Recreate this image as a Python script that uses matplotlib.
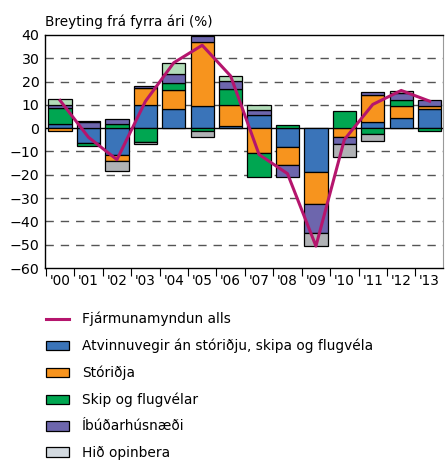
import matplotlib
matplotlib.use("Agg")
import matplotlib.pyplot as plt
from matplotlib.patches import Patch
from matplotlib.lines import Line2D

plt.rcParams['font.family'] = ['DejaVu Sans']

years = ["'00", "'01", "'02", "'03", "'04", "'05", "'06",
         "'07", "'08", "'09", "'10", "'11", "'12", "'13"]

# components (% change from previous year)
atvinnuvegir = [2.0, -6.5, -11.3, 9.8, 8.1, 9.4, 0.9, 5.5, -8.2, -19.0, 0.0, 2.6, 4.2, 8.1]
storidja = [-1.0, 0.0, -2.6, 7.3, 8.2, 27.5, 9.1, -10.5, -7.5, -13.7, -3.7, 11.5, 5.2, 1.3]
skip = [6.5, -1.0, 1.9, -6.0, 3.3, -1.0, 6.8, -10.6, 1.2, 0.0, 7.3, -2.7, 2.9, -1.3]
ibud = [1.6, 2.5, 2.2, 1.0, 3.5, 2.6, 3.5, 2.2, -5.1, -12.4, -3.0, 1.4, 2.9, 2.9]
opinbera = [2.6, 0.7, -4.3, -0.7, 4.9, -2.9, 2.0, 2.2, 0.0, -5.4, -5.6, -2.9, 0.7, 0.0]
# total
alls = [11.9, -3.9, -13.5, 11.5, 28.1, 35.6, 22.4, -11.3, -19.5, -50.6, -4.9, 10.2, 16.2, 11.6]

c_blue = '#3a74b9'
c_orange = '#f7941e'
c_green = '#00a651'
c_purple = '#6d66ad'
c_opin_pos = '#b2dcb8'
c_opin_neg = '#b0b2b5'
c_opin_leg = '#d3dae0'
c_line = '#b5156d'

fig = plt.figure(figsize=(4.46, 4.61), dpi=100)
ax = fig.add_axes([45/446, 1-268/461, (443-45)/446, (268-35)/461])

x = list(range(len(years)))
pos = [0.0]*len(years)
neg = [0.0]*len(years)
series = [(atvinnuvegir, c_blue), (storidja, c_orange), (skip, c_green),
          (ibud, c_purple), (opinbera, None)]
for vals, col in series:
    for i, v in enumerate(vals):
        if v == 0:
            continue
        if col is None:
            fc = c_opin_pos if v > 0 else c_opin_neg
        else:
            fc = col
        if v > 0:
            ax.bar(x[i], v, bottom=pos[i], width=0.82, color=fc,
                   edgecolor='black', linewidth=0.9, zorder=3)
            pos[i] += v
        else:
            ax.bar(x[i], v, bottom=neg[i], width=0.82, color=fc,
                   edgecolor='black', linewidth=0.9, zorder=3)
            neg[i] += v

ax.plot(x, alls, color=c_line, linewidth=2.2, zorder=4)

ax.set_xlim(-0.53, 13.47)
ax.set_ylim(-60, 40)
ax.set_yticks(range(-60, 41, 10))
ax.tick_params(axis='y', length=0, labelsize=10.2, pad=4)
ax.set_xticks(x)
ax.set_xticklabels(years)
ax.tick_params(axis='x', which='major', length=0, labelsize=9.8, pad=4)
ax.set_xticks([i + 0.5 for i in range(-1, 13)], minor=True)
ax.tick_params(axis='x', which='minor', length=6, width=0.8, direction='out')

for g in [-50, -40, -30, -20, -10, 10, 20, 30]:
    ax.axhline(g, color='#555555', linewidth=1.0, dashes=(6, 5), zorder=1)
ax.axhline(0, color='black', linewidth=1.0, zorder=2)

for s in ['left', 'bottom', 'top']:
    ax.spines[s].set_color('black')
    ax.spines[s].set_linewidth(1.0)
ax.spines['right'].set_color('#999999')

fig.text(45/446, 1-26/461, 'Breyting frá fyrra ári (%)', fontsize=9.8,
         ha='left', va='baseline')

handles = [Line2D([], [], color=c_line, linewidth=2.2),
           Patch(facecolor=c_blue, edgecolor='black', linewidth=0.9),
           Patch(facecolor=c_orange, edgecolor='black', linewidth=0.9),
           Patch(facecolor=c_green, edgecolor='black', linewidth=0.9),
           Patch(facecolor=c_purple, edgecolor='black', linewidth=0.9),
           Patch(facecolor=c_opin_leg, edgecolor='black', linewidth=0.9)]
labels = ['Fjármunamyndun alls',
          'Atvinnuvegir án stóriðju, skipa og flugvéla',
          'Stóriðja', 'Skip og flugvélar', 'Íbúðarhúsnæði', 'Hið opinbera']
fig.legend(handles, labels, loc='upper left',
           bbox_to_anchor=(46/446, 1-312/461), frameon=False, fontsize=9.9,
           handlelength=1.65, handleheight=0.7, handletextpad=0.95,
           labelspacing=0.9, borderaxespad=0, borderpad=0)

fig.savefig('out.png', dpi=100)
